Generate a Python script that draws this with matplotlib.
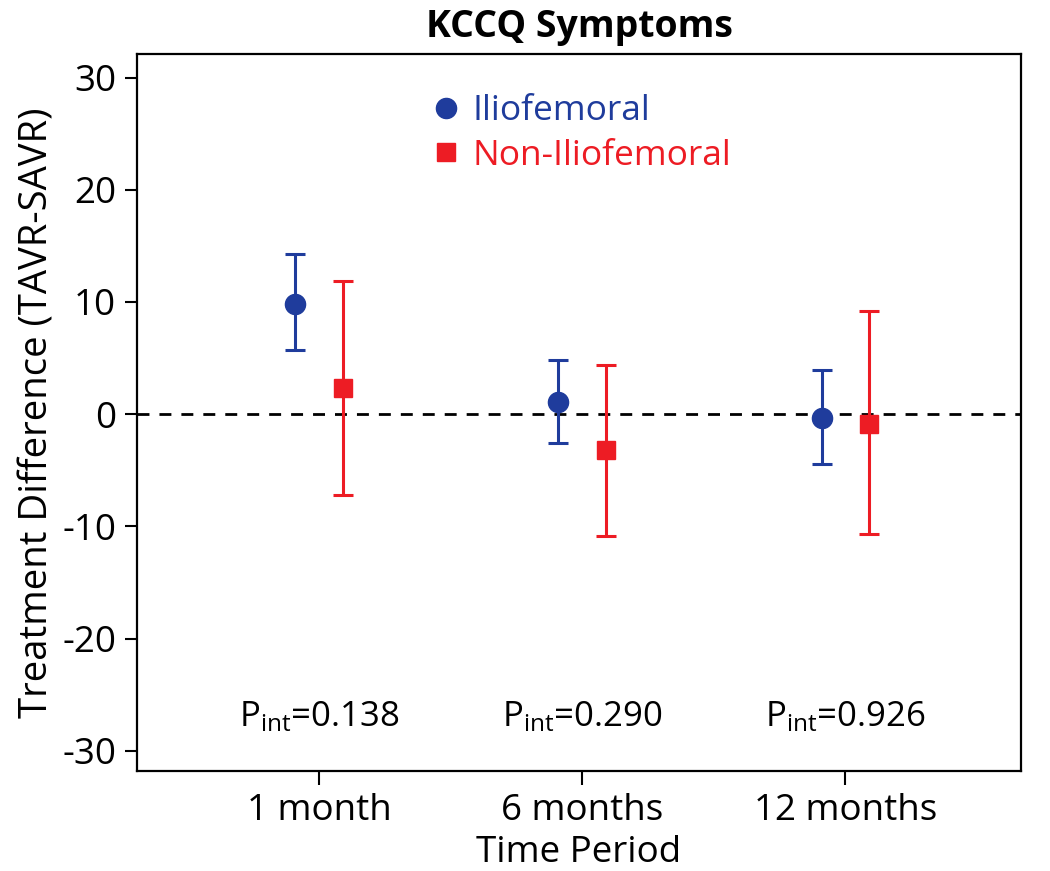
import matplotlib
matplotlib.use("Agg")
import matplotlib.pyplot as plt
from matplotlib.lines import Line2D
import numpy as np

plt.rcParams['font.family'] = ['Open Sans', 'DejaVu Sans']
plt.rcParams['mathtext.default'] = 'regular'
plt.rcParams['axes.unicode_minus'] = False

# ---- data ----
periods = ["1 month", "6 months", "12 months"]
ilio_est = [9.8, 1.1, -0.3]
ilio_lo = [5.7, -2.6, -4.4]
ilio_hi = [14.3, 4.8, 3.9]
non_est = [2.3, -3.2, -0.9]
non_lo = [-7.2, -10.9, -10.7]
non_hi = [11.9, 4.4, 9.2]
p_int = ["0.138", "0.290", "0.926"]
series_names = ["Iliofemoral", "Non-Iliofemoral"]

blue = "#1f3c9c"
red = "#ed1c24"

fig = plt.figure(figsize=(10.5, 8.71), dpi=100)
ax = fig.add_axes([137/1050, 100/871, 884/1050, 717/871])

x = np.arange(1, len(periods) + 1)
off = 0.09

ie = np.array(ilio_est)
ax.errorbar(x - off, ie, yerr=[ie - np.array(ilio_lo), np.array(ilio_hi) - ie],
            fmt='o', color=blue, ms=14.5, elinewidth=2.2, capsize=7.5, capthick=2.2, zorder=3)
ne = np.array(non_est)
ax.errorbar(x + off, ne, yerr=[ne - np.array(non_lo), np.array(non_hi) - ne],
            fmt='s', color=red, ms=13.5, elinewidth=2.2, capsize=7.5, capthick=2.2, zorder=3)

ax.axhline(0, color='black', lw=2.0, ls=(0, (4.3, 3.6)), zorder=1)

for xi, p in zip(x, p_int):
    ax.text(xi, -27.0, r'P$_{int}$=' + p, ha='center', va='center', fontsize=25)

ax.set_xlim(0.308, 3.668)
ax.set_ylim(-31.8, 32.1)
ax.set_xticks(x)
ax.set_xticklabels(periods, fontsize=26.5)
ax.set_yticks([-30, -20, -10, 0, 10, 20, 30])
ax.tick_params(axis='y', labelsize=26.5, length=9, width=1.5, direction='out', pad=6)
ax.tick_params(axis='x', length=10, width=1.5, direction='out', pad=6)
for s in ax.spines.values():
    s.set_linewidth(1.6)

ax.set_xlabel("Time Period", fontsize=26.5, labelpad=4)
ax.set_ylabel("Treatment Difference (TAVR-SAVR)", fontsize=27.5, labelpad=4)
ax.set_title("KCCQ Symptoms", fontsize=27, fontweight='bold', pad=12)

handles = [Line2D([], [], marker='o', ls='none', color=blue, ms=14.5),
           Line2D([], [], marker='s', ls='none', color=red, ms=13.5)]
leg = ax.legend(handles, series_names, loc='upper left', bbox_to_anchor=(0.334, 0.944),
                frameon=False, fontsize=25.5, handlelength=0.8, handletextpad=0.35,
                borderaxespad=0, borderpad=0, labelspacing=0.3, labelcolor=[blue, red])

fig.savefig("out.png", dpi=100)
